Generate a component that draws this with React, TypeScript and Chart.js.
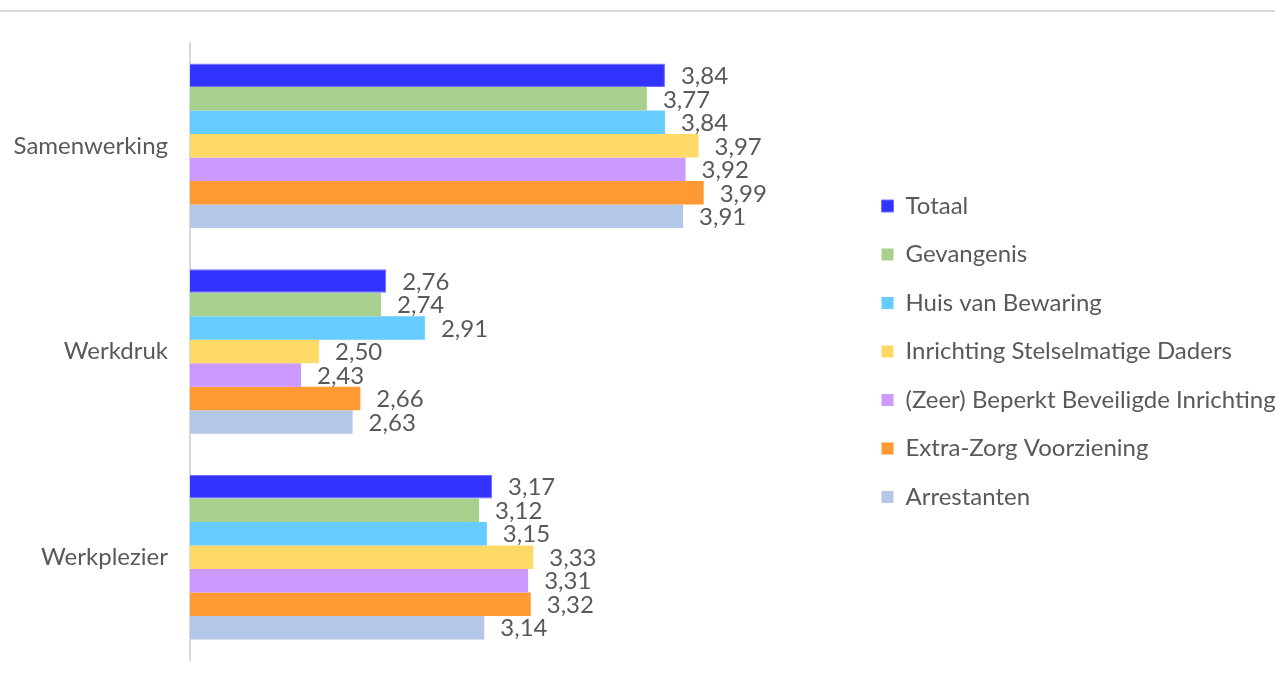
import React, { useEffect, useRef } from "react";
import { Chart, registerables } from "chart.js";

Chart.register(...registerables);

const categories = ["Samenwerking", "Werkdruk", "Werkplezier"];
const seriesNames = [
  "Totaal",
  "Gevangenis",
  "Huis van Bewaring",
  "Inrichting Stelselmatige Daders",
  "(Zeer) Beperkt Beveiligde Inrichting",
  "Extra-Zorg Voorziening",
  "Arrestanten",
];
const totaal = [3.84, 2.76, 3.17];
const gevangenis = [3.77, 2.74, 3.12];
const huisVanBewaring = [3.84, 2.91, 3.15];
const stelselmatigeDaders = [3.97, 2.5, 3.33];
const beperktBeveiligd = [3.92, 2.43, 3.31];
const extraZorg = [3.99, 2.66, 3.32];
const arrestanten = [3.91, 2.63, 3.14];
const seriesColors = ["#3333FF", "#A9D18E", "#66CCFF", "#FFD966", "#CC99FF", "#FF9933", "#B4C7E7"];
const xMin = 2;
const xMax = 4.584;

const FONT = "Lato, 'Liberation Sans', sans-serif";
const TEXT = "#595959";

const topLine = {
  id: "topLine",
  beforeDraw(chart: any) {
    const ctx = chart.ctx;
    ctx.save();
    ctx.strokeStyle = "#d9d9d9";
    ctx.lineWidth = 2;
    ctx.beginPath();
    ctx.moveTo(0, 11);
    ctx.lineTo(chart.width, 11);
    ctx.stroke();
    ctx.restore();
  },
};

const valueLabels = {
  id: "valueLabels",
  afterDatasetsDraw(chart: any) {
    const ctx = chart.ctx;
    ctx.save();
    ctx.font = `24px ${FONT}`;
    ctx.fillStyle = TEXT;
    ctx.textAlign = "left";
    ctx.textBaseline = "middle";
    chart.data.datasets.forEach((ds: any, di: number) => {
      const meta = chart.getDatasetMeta(di);
      meta.data.forEach((el: any, i: number) => {
        const v = ds.data[i] as number;
        ctx.fillText(v.toFixed(2).replace(".", ","), el.x + 16, el.y + 1);
      });
    });
    ctx.restore();
  },
};

export default function App() {
  const ref = useRef<HTMLCanvasElement>(null);
  useEffect(() => {
    if (!ref.current) return;
    const allSeries = [totaal, gevangenis, huisVanBewaring, stelselmatigeDaders, beperktBeveiligd, extraZorg, arrestanten];
    const chart = new Chart(ref.current, {
      type: "bar",
      data: {
        labels: categories,
        datasets: allSeries.map((d, i) => ({
          label: seriesNames[i],
          data: d,
          backgroundColor: seriesColors[i],
          borderColor: i === 0 ? "#6f6fff" : seriesColors[i],
          borderWidth: i === 0 ? 1 : 0,
          categoryPercentage: 0.8,
          barPercentage: 1.0,
        })),
      },
      options: {
        indexAxis: "y",
        animation: false,
        responsive: false,
        maintainAspectRatio: false,
        layout: { padding: { top: 43, bottom: 21, left: 0, right: 0 } },
        scales: {
          x: { display: false, min: xMin, max: xMax },
          y: {
            afterFit: (s: any) => {
              s.width = 190;
              s.paddingTop = 0;
              s.paddingBottom = 0;
            },
            grid: { display: false, drawTicks: false },
            border: { display: true, color: "#d9d9d9", width: 2 },
            ticks: { color: TEXT, font: { family: FONT, size: 24 }, padding: 22 },
          },
        },
        plugins: {
          legend: {
            position: "right",
            align: "center",
            maxWidth: 418,
            labels: {
              boxWidth: 12,
              boxHeight: 12,
              padding: 24.5,
              color: TEXT,
              font: { family: FONT, size: 24 },
            },
          },
          tooltip: { enabled: false },
        },
      },
      plugins: [topLine, valueLabels],
    });
    return () => chart.destroy();
  }, []);
  return (
    <div style={{ position: "fixed", left: 0, top: 0, width: 1275, height: 681, background: "#fff" }}>
      <canvas ref={ref} width={1275} height={681} style={{ width: 1275, height: 681 }} />
    </div>
  );
}
